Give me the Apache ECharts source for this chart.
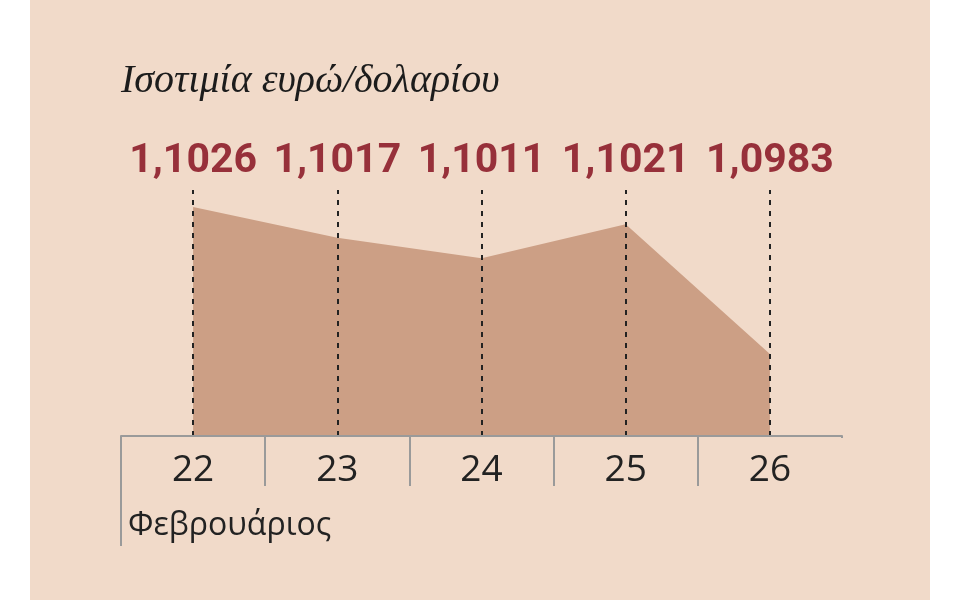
<!DOCTYPE html>
<html>
<head>
<meta charset="utf-8">
<script src="https://cdn.jsdelivr.net/npm/echarts@6/dist/echarts.min.js"></script>
<style>
html,body{margin:0;padding:0;background:#ffffff;}
#chart{width:960px;height:600px;}
</style>
</head>
<body>
<div id="chart"></div>
<script>
const title = 'Ισοτιμία ευρώ/δολαρίου';
const monthLabel = 'Φεβρουάριος';
const days = ['22', '23', '24', '25', '26'];
const rates = [1.1026, 1.1017, 1.1011, 1.1021, 1.0983];
const yMin = 1.0959;
const yMax = 1.1031;

const chart = echarts.init(document.getElementById('chart'));
const fmt = v => v.toFixed(4).replace('.', ',');
const bg = '#f1dac9';

chart.setOption({
  backgroundColor: '#ffffff',
  animation: false,
  title: {
    text: title,
    left: 116,
    top: 56,
    textStyle: {
      fontFamily: 'Liberation Serif',
      fontStyle: 'italic',
      fontWeight: 'normal',
      fontSize: 40,
      color: '#1c1c1c'
    }
  },
  graphic: [
    {
      type: 'rect', z: -10, silent: true,
      shape: {x: 30, y: 0, width: 900, height: 600},
      style: {fill: bg}
    },
    {
      type: 'rect', z: 100, silent: true,
      shape: {x: 839, y: 438, width: 8, height: 52},
      style: {fill: bg}
    },
    {
      type: 'line', z: 100, silent: true,
      shape: {x1: 121, y1: 436, x2: 121, y2: 546},
      style: {stroke: '#9a9a9a', lineWidth: 2}
    },
    {
      type: 'text', z: 100, silent: true,
      left: 128, top: 510,
      style: {
        text: monthLabel,
        fontFamily: 'Open Sans',
        fontSize: 32,
        fill: '#222222'
      }
    }
  ],
  grid: {left: 121, right: 118, top: 190, bottom: 164},
  xAxis: [
    {
      type: 'category',
      data: days,
      position: 'bottom',
      boundaryGap: true,
      axisLine: {show: true, lineStyle: {color: '#9a9a9a', width: 2}},
      axisTick: {show: true, alignWithLabel: false, length: 50, lineStyle: {color: '#9a9a9a', width: 2}},
      axisLabel: {
        margin: 14,
        fontFamily: 'Open Sans',
        fontSize: 37,
        lineHeight: 40,
        color: '#222222'
      },
      splitLine: {show: false},
      z: 10
    },
    {
      type: 'category',
      data: days,
      position: 'top',
      boundaryGap: true,
      axisLine: {show: false},
      axisTick: {show: false},
      axisLabel: {
        interval: 0,
        hideOverlap: false,
        margin: 6,
        fontFamily: 'Liberation Sans Narrow, Roboto, sans-serif',
        fontWeight: 'bold',
        fontSize: 41,
        lineHeight: 44,
        color: '#97303a',
        formatter: (v, i) => fmt(rates[i])
      }
    }
  ],
  yAxis: {
    type: 'value',
    min: yMin,
    max: yMax,
    show: false,
    splitLine: {show: false}
  },
  series: [
    {
      type: 'line',
      data: rates,
      xAxisIndex: 0,
      symbol: 'none',
      lineStyle: {width: 0, color: '#cc9f85'},
      areaStyle: {color: '#cc9f85', opacity: 1, origin: 'start'},
      markLine: {
        silent: true,
        symbol: ['none', 'none'],
        label: {show: false},
        lineStyle: {color: '#222222', type: [5, 6], width: 2},
        data: days.map(d => ({xAxis: d}))
      },
      z: 2
    }
  ]
});
</script>
</body>
</html>
